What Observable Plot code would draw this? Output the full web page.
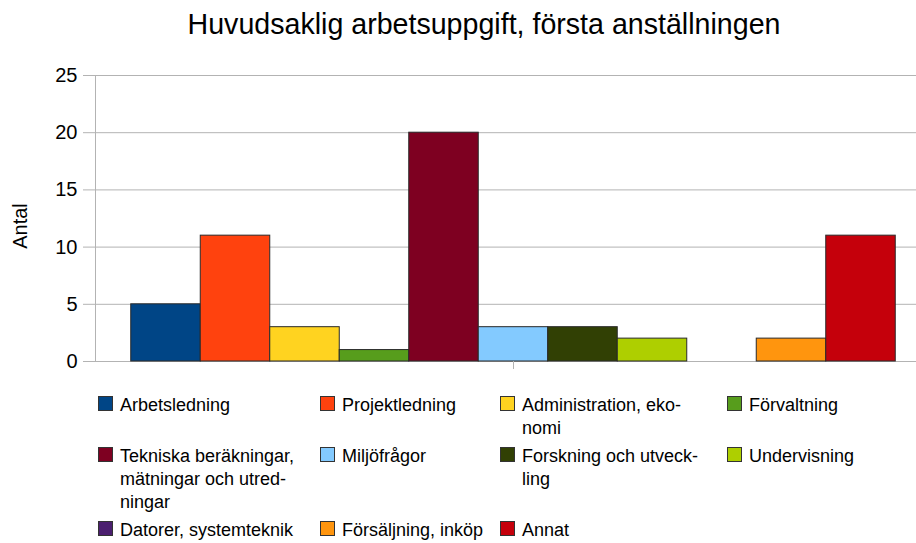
<!DOCTYPE html>
<html>
<head>
<meta charset="utf-8">
<script src="https://cdn.jsdelivr.net/npm/d3@7"></script>
<script src="https://cdn.jsdelivr.net/npm/@observablehq/plot@0.6"></script>
<style>
  html, body { margin: 0; padding: 0; background: #fff; }
  body { width: 916px; height: 543px; position: relative; overflow: hidden;
         font-family: "Liberation Sans", Arial, sans-serif; color: #000; }
  #title { position: absolute; left: 0; top: 10px; width: 968px; text-align: center;
           font-size: 28.6px; line-height: 29px; white-space: nowrap; }
  #chart { position: absolute; left: 0; top: 60px; }
  #ylabel { position: absolute; left: 20px; top: 226px; font-size: 20px; line-height: 20px;
            transform: translate(-50%, -50%) rotate(-90deg); white-space: nowrap; }
  #legend { position: absolute; left: 98px; top: 394px; display: grid;
            grid-template-columns: 222px 180px 227px 190px; row-gap: 5px; }
  .item { display: flex; align-items: flex-start; font-size: 18px; line-height: 23px; }
  .sw { width: 13px; height: 13px; border: 1px solid #333; margin-top: 2px; margin-right: 7px; flex: none; }
  .lbl { white-space: pre; }
</style>
</head>
<body>
<div id="title"></div>
<div id="chart"></div>
<div id="ylabel"></div>
<div id="legend"></div>
<script>
const titleText = "Huvudsaklig arbetsuppgift, första anställningen";
const yLabel = "Antal";
const categories = [
  "Arbetsledning", "Projektledning", "Administration, ekonomi", "Förvaltning",
  "Tekniska beräkningar, mätningar och utredningar", "Miljöfrågor",
  "Forskning och utveckling", "Undervisning", "Datorer, systemteknik",
  "Försäljning, inköp", "Annat"
];
const legendLabels = [
  "Arbetsledning", "Projektledning", "Administration, eko-\nnomi", "Förvaltning",
  "Tekniska beräkningar,\nmätningar och utred-\nningar", "Miljöfrågor",
  "Forskning och utveck-\nling", "Undervisning", "Datorer, systemteknik",
  "Försäljning, inköp", "Annat"
];
const values = [5, 11, 3, 1, 20, 3, 3, 2, 0, 2, 11];
const colors = ["#004586", "#ff420e", "#ffd320", "#579d1c", "#7e0021", "#83caff",
                "#314004", "#aecf00", "#4b1f6f", "#ff950e", "#c5000b"];
const yTicks = [0, 5, 10, 15, 20, 25];

const data = categories.map((c, i) => ({cat: c, value: values[i]}));

document.getElementById("title").textContent = titleText;
document.getElementById("ylabel").textContent = yLabel;

const chart = Plot.plot({
  width: 916,
  height: 320,
  marginTop: 15,
  marginBottom: 19,
  marginLeft: 95,
  marginRight: 0,
  style: {fontFamily: "'Liberation Sans', Arial, sans-serif", fontSize: "20px", color: "#000", background: "#fff"},
  x: {type: "band", domain: categories, range: [96, 930], paddingInner: 0, paddingOuter: 0.5, round: false, axis: null},
  y: {domain: [0, 25], axis: null},
  color: {domain: categories, range: colors},
  marks: [
    Plot.gridY(yTicks, {stroke: "#b3b3b3", strokeOpacity: 1}),
    Plot.barY(data.filter(d => d.value > 0), {x: "cat", y: "value", fill: "cat", stroke: "#2a2a2a", strokeWidth: 1}),
    Plot.frame({anchor: "left", stroke: "#b3b3b3"}),
    Plot.axisY({ticks: yTicks, tickSize: 12, tickPadding: 6, fontSize: 20, stroke: "#b3b3b3", strokeOpacity: 1, label: null, tickFormat: d => String(d)}),
    Plot.axisX({ticks: [categories[5]], tickSize: 8, tickFormat: () => "", stroke: "#b3b3b3", strokeOpacity: 1, label: null})
  ]
});
document.getElementById("chart").appendChild(chart);

const legend = document.getElementById("legend");
legendLabels.forEach((lab, i) => {
  const item = document.createElement("div");
  item.className = "item";
  const sw = document.createElement("div");
  sw.className = "sw";
  sw.style.background = colors[i];
  const t = document.createElement("div");
  t.className = "lbl";
  t.textContent = lab;
  item.appendChild(sw);
  item.appendChild(t);
  legend.appendChild(item);
});
</script>
</body>
</html>
